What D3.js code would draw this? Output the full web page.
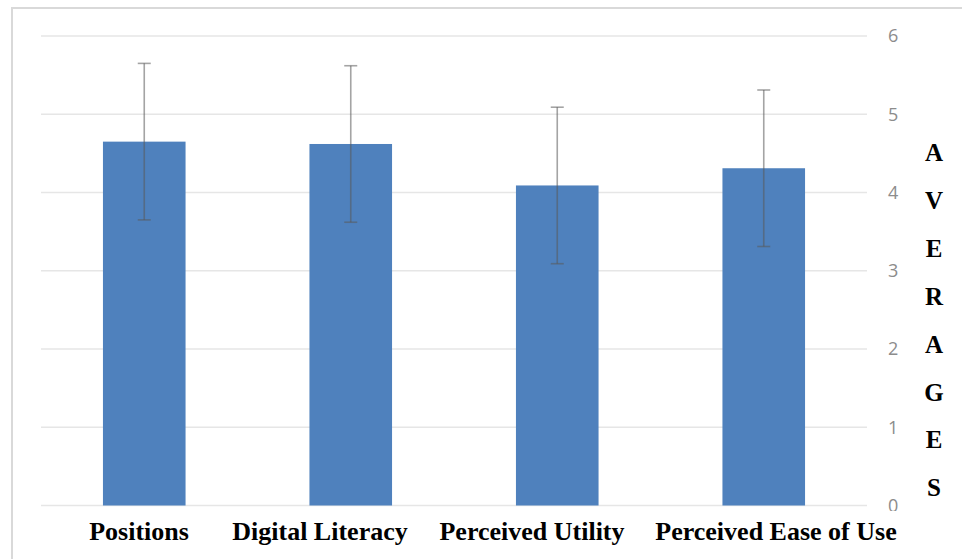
<!DOCTYPE html>
<html>
<head>
<meta charset="utf-8">
<script src="https://cdn.jsdelivr.net/npm/d3@7"></script>
<style>
  html, body { margin: 0; padding: 0; background: #ffffff; }
  svg { display: block; }
</style>
</head>
<body>
<svg id="chart" width="962" height="559"></svg>
<script>
// ---- data ----
const categories = ["Positions", "Digital Literacy", "Perceived Utility", "Perceived Ease of Use"];
const averages = [4.65, 4.62, 4.09, 4.31];
const stdErrors = [1.0, 1.0, 1.0, 1.0];
const yTicks = [0, 1, 2, 3, 4, 5, 6];
const axisTitleLetters = ["A", "V", "E", "R", "A", "G", "E", "S"];

// ---- layout ----
const W = 962, H = 559;
const plot = { left: 41, right: 867, top: 36, bottom: 505.5 };
const labelCenters = [139, 320, 532, 776]; // category labels as typed under the chart
const svg = d3.select("#chart");

svg.append("rect").attr("x", 0).attr("y", 0).attr("width", W).attr("height", H).attr("fill", "#fff");
// chart frame
svg.append("rect")
  .attr("x", 12).attr("y", 8).attr("width", W + 10).attr("height", H + 10)
  .attr("fill", "#fff").attr("stroke", "#d9d9d9").attr("stroke-width", 2);

const x = d3.scaleBand().domain(categories).range([plot.left, plot.right])
  .paddingInner(0.6).paddingOuter(0.3);
const y = d3.scaleLinear().domain([0, 6]).range([plot.bottom, plot.top]);

// gridlines
svg.append("g").selectAll("line").data(yTicks).join("line")
  .attr("x1", plot.left).attr("x2", plot.right)
  .attr("y1", d => y(d)).attr("y2", d => y(d))
  .attr("stroke", "#e6e6e6").attr("stroke-width", 1.6);

// right axis tick labels
const axis = d3.axisRight(y).tickValues(yTicks).tickSize(0).tickPadding(0).tickFormat(d3.format("d"));
const ag = svg.append("g").attr("transform", `translate(888,0)`).call(axis);
ag.select(".domain").remove();
ag.selectAll("text")
  .attr("font-family", "'Open Sans', sans-serif").attr("font-size", 18)
  .attr("fill", "#8c8c8c").attr("text-anchor", "start");

// bars
svg.append("g").selectAll("rect").data(categories).join("rect")
  .attr("x", d => x(d)).attr("width", x.bandwidth())
  .attr("y", (d, i) => y(averages[i]))
  .attr("height", (d, i) => y(0) - y(averages[i]))
  .attr("fill", "#4f81bd");

// error bars
const eb = svg.append("g").attr("stroke", "#595959").attr("stroke-opacity", 0.55).attr("stroke-width", 1.6);
categories.forEach((c, i) => {
  const cx = x(c) + x.bandwidth() / 2;
  const hi = y(averages[i] + stdErrors[i]);
  const lo = y(averages[i] - stdErrors[i]);
  eb.append("line").attr("x1", cx).attr("x2", cx).attr("y1", hi).attr("y2", lo);
  eb.append("line").attr("x1", cx - 6.5).attr("x2", cx + 6.5).attr("y1", hi).attr("y2", hi);
  eb.append("line").attr("x1", cx - 6.5).attr("x2", cx + 6.5).attr("y1", lo).attr("y2", lo);
});

// vertical axis title, one letter per line
svg.append("g").selectAll("text").data(axisTitleLetters).join("text")
  .attr("x", 934).attr("y", (d, i) => 161 + i * 47.9)
  .attr("text-anchor", "middle")
  .attr("font-family", "'Liberation Serif', 'Times New Roman', serif")
  .attr("font-weight", "bold").attr("font-size", 25).attr("fill", "#000")
  .text(d => d);

// category label band (covers bottom of the chart area)
svg.append("rect").attr("x", 14).attr("y", 511).attr("width", W).attr("height", H - 511).attr("fill", "#fff");
svg.append("g").selectAll("text").data(categories).join("text")
  .attr("x", (d, i) => labelCenters[i]).attr("y", 540)
  .attr("text-anchor", "middle")
  .attr("font-family", "'Liberation Serif', 'Times New Roman', serif")
  .attr("font-weight", "bold").attr("font-size", 26).attr("fill", "#000")
  .text(d => d);
</script>
</body>
</html>
